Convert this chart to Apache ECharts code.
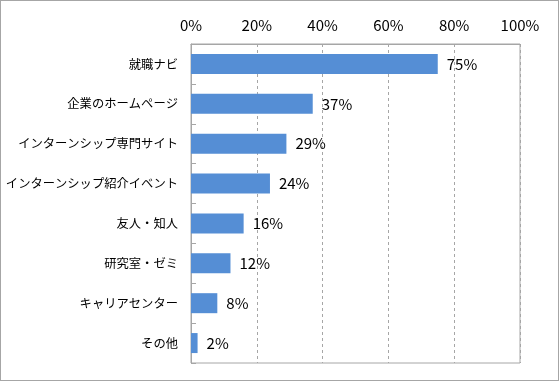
<!DOCTYPE html>
<html><head><meta charset="utf-8">
<script src="https://cdn.jsdelivr.net/npm/echarts@6/dist/echarts.min.js"></script>
<style>
html,body{margin:0;padding:0;background:#fff;}
#frame{position:absolute;left:0;top:0;width:559px;height:381px;box-sizing:border-box;border:1px solid #a6a6a6;}
#c{position:absolute;left:0;top:0;width:559px;height:381px;}
</style></head>
<body><div id="frame"></div><div id="c"></div>
<script>
const categories = ['就職ナビ','企業のホームページ','インターンシップ専門サイト','インターンシップ紹介イベント','友人・知人','研究室・ゼミ','キャリアセンター','その他'];
const values = [75, 37, 29, 24, 16, 12, 8, 2];
const xTicks = {min: 0, max: 100, interval: 20};
const font = '"Noto Sans CJK JP", "Noto Sans", sans-serif';
const chart = echarts.init(document.getElementById('c'));
chart.setOption({
  animation: false,
  grid: {left: 191, right: 39, top: 44, bottom: 18, show: true, borderColor: '#a6a6a6', borderWidth: 1},
  xAxis: {
    type: 'value', position: 'top', min: xTicks.min, max: xTicks.max, interval: xTicks.interval,
    axisLine: {show: true, lineStyle: {color: '#a6a6a6'}},
    axisTick: {show: false},
    axisLabel: {formatter: '{value}%', color: '#000', fontSize: 15, fontFamily: font, margin: 11},
    splitLine: {show: true, lineStyle: {color: '#a6a6a6', type: [3, 3]}}
  },
  yAxis: {
    type: 'category', data: categories, inverse: true,
    axisLine: {show: true, lineStyle: {color: '#a6a6a6'}},
    axisTick: {show: true, inside: true, length: 5, lineStyle: {color: '#a6a6a6'}},
    axisLabel: {color: '#000', fontSize: 12.3, fontFamily: font, margin: 13}
  },
  series: [{
    type: 'bar', data: values, barWidth: 20,
    itemStyle: {color: '#558ed5'},
    label: {show: true, position: 'right', distance: 9, formatter: '{c}%', color: '#000', fontSize: 15, fontFamily: font}
  }]
});
</script></body></html>
